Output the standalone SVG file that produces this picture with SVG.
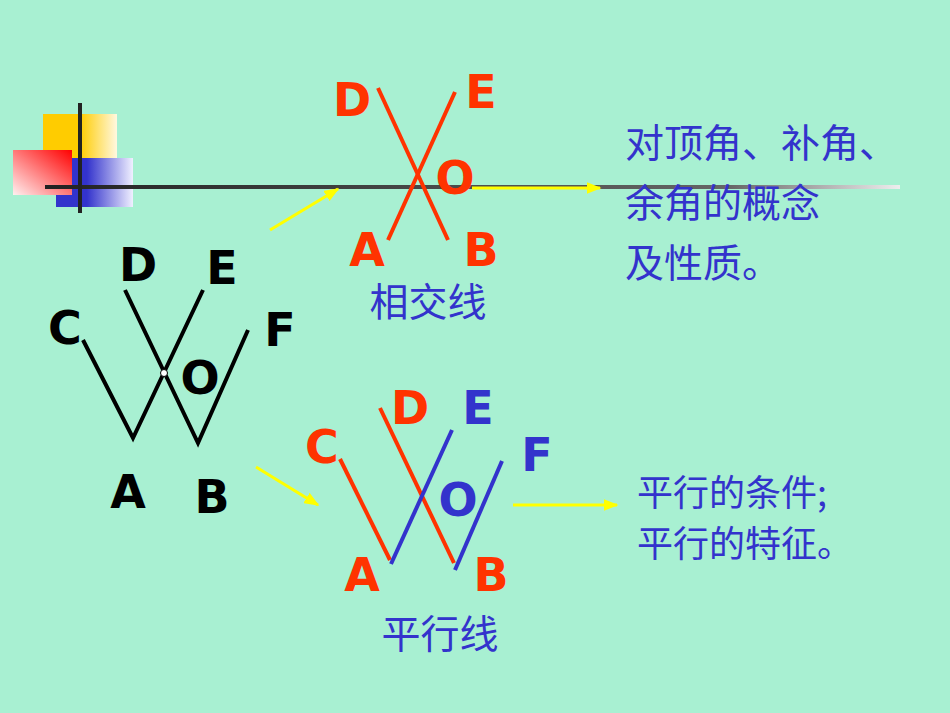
<svg xmlns="http://www.w3.org/2000/svg" width="950" height="713" viewBox="0 0 950 713">
<style>
.lbl{font-family:"DejaVu Sans","Liberation Sans",sans-serif;font-weight:bold;font-size:46px;text-anchor:middle;dominant-baseline:central}
.red{fill:#ff3300}.blue{fill:#3333cc}.blk{fill:#000}
.cn{font-family:"Noto Sans CJK SC",sans-serif;font-size:39px;fill:#3333cc}
.cn2{font-family:"Noto Sans CJK SC",sans-serif;font-size:36px;fill:#3333cc}
.rl{stroke:#ff3300;stroke-width:4;fill:none}
.bl{stroke:#3333cc;stroke-width:4;fill:none}
.kl{stroke:#000;stroke-width:4;fill:none}
.ar{stroke:#ffff00;stroke-width:3;fill:none;marker-end:url(#ah)}
</style>
<defs>
<marker id="ah" markerWidth="5" markerHeight="4" refX="4.5" refY="2" orient="auto" markerUnits="strokeWidth"><path d="M0,0L5,2L0,4z" fill="#ffff00"/></marker>
<linearGradient id="gy" x1="0" x2="1"><stop offset="0.5" stop-color="#ffcc00"/><stop offset="1" stop-color="#fff8e0"/></linearGradient>
<linearGradient id="gr" x1="1" y1="0" x2="0" y2="1"><stop offset="0" stop-color="#ff0000"/><stop offset="1" stop-color="#fff0f0"/></linearGradient>
<linearGradient id="gb" x1="0" x2="1"><stop offset="0.4" stop-color="#3333cc"/><stop offset="1" stop-color="#f0f0ff"/></linearGradient>
<linearGradient id="gl" x1="0" x2="1"><stop offset="0" stop-color="#222"/><stop offset="0.8" stop-color="#666"/><stop offset="1" stop-color="#eee"/></linearGradient>
</defs>
<rect width="950" height="713" fill="#a8f0d2"/>
<g id="decor">
<rect x="43" y="114" width="74" height="44" fill="url(#gy)"/>
<rect x="56" y="158" width="77" height="49" fill="url(#gb)"/>
<rect x="13" y="150" width="59" height="45" fill="url(#gr)"/>
<rect x="45" y="185" width="855" height="4" fill="url(#gl)"/>
<rect x="78" y="103" width="4" height="110" fill="#222"/>
</g>
<g id="connectors">
<line class="ar" x1="270" y1="230" x2="338" y2="189"/>
<line class="ar" x1="472" y1="188" x2="600" y2="188"/>
<line class="ar" x1="256" y1="467" x2="318" y2="505"/>
<line class="ar" x1="513" y1="505" x2="617" y2="505"/>
</g>
<g id="w-figure">
<polyline class="kl" points="83,340 133,438 203,290"/>
<polyline class="kl" points="125,290 198,443 248,330"/>
<circle cx="164" cy="373" r="3.5" fill="#fff" stroke="#000" stroke-width="1"/>
<text class="lbl blk" x="138" y="265">D</text><text class="lbl blk" x="222" y="268">E</text>
<text class="lbl blk" x="65" y="328">C</text><text class="lbl blk" x="280" y="330">F</text>
<text class="lbl blk" x="200" y="378">O</text><text class="lbl blk" x="128" y="492">A</text>
<text class="lbl blk" x="212" y="497">B</text>
</g>
<g id="intersect">
<line class="rl" x1="378" y1="88" x2="448" y2="240"/>
<line class="rl" x1="455" y1="92" x2="388" y2="240"/>
<text class="lbl red" x="352" y="100">D</text><text class="lbl red" x="481" y="92">E</text>
<text class="lbl red" x="455" y="178">O</text><text class="lbl red" x="367" y="250">A</text>
<text class="lbl red" x="481" y="250">B</text>
<text class="cn" x="428" y="316" text-anchor="middle">相交线</text>
</g>
<g id="parallel">
<line class="rl" x1="340" y1="459" x2="390" y2="560"/>
<line class="rl" x1="380" y1="408" x2="454" y2="563"/>
<line class="bl" x1="391" y1="564" x2="452" y2="430"/>
<line class="bl" x1="455" y1="570" x2="502" y2="461"/>
<text class="lbl red" x="322" y="447">C</text><text class="lbl red" x="410" y="408">D</text>
<text class="lbl blue" x="478" y="408">E</text><text class="lbl blue" x="537" y="455">F</text>
<text class="lbl blue" x="458" y="500">O</text><text class="lbl red" x="362" y="575">A</text>
<text class="lbl red" x="491" y="575">B</text>
<text class="cn" x="440" y="648" text-anchor="middle">平行线</text>
</g>
<g id="text1">
<text class="cn" x="625" y="157">对顶角、补角、</text>
<text class="cn" x="625" y="217">余角的概念</text>
<text class="cn" x="625" y="277">及性质。</text>
</g>
<g id="text2">
<text class="cn2" x="637" y="506">平行的条件;</text>
<text class="cn2" x="637" y="557">平行的特征。</text>
</g>
</svg>
